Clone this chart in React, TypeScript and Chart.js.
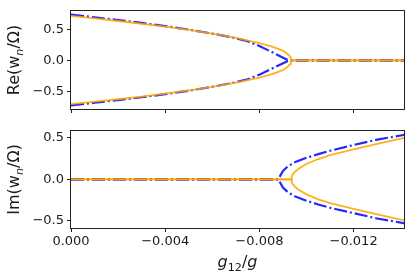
import React, { useEffect, useRef } from 'react';
import { Chart, registerables } from 'chart.js';
Chart.register(...registerables);

const FONT = '"DejaVu Sans", sans-serif';
const TEXT = '#1a1a1a';

// x axis (g12/g), reversed: 0 on the left
const X_MIN = -0.01414;
const X_MAX = 0;
const xTicks = [0, -0.004, -0.008, -0.012];
const yTicks = [-0.5, 0, 0.5];

// ---- Re(w_n/Ω) ----
const reOrangeX = [0, -0.001, -0.002, -0.003, -0.004, -0.005, -0.006, -0.007, -0.008, -0.0085, -0.0088, -0.009, -0.0091, -0.0092, -0.0093, -0.00933, -0.00935, -0.01414];
const reOrangeUp = [0.72, 0.68, 0.638, 0.594, 0.546, 0.493, 0.434, 0.366, 0.282, 0.229, 0.188, 0.155, 0.133, 0.104, 0.062, 0.04, 0, 0];
const reOrangeLo = [-0.705, -0.667, -0.627, -0.584, -0.537, -0.485, -0.427, -0.36, -0.278, -0.226, -0.186, -0.153, -0.131, -0.102, -0.061, -0.039, 0, 0];

const reBlueX = [0, -0.001, -0.002, -0.003, -0.004, -0.005, -0.006, -0.007, -0.0075, -0.008, -0.00925, -0.01414];
const reBlueUp = [0.74, 0.698, 0.654, 0.607, 0.556, 0.499, 0.435, 0.36, 0.31, 0.235, 0, 0];
const reBlueLo = [-0.725, -0.684, -0.641, -0.595, -0.545, -0.489, -0.426, -0.353, -0.304, -0.23, 0, 0];

// ---- Im(w_n/Ω) ----
const imOrangeX = [0, -0.00935, -0.00937, -0.0094, -0.0095, -0.0097, -0.01, -0.0105, -0.011, -0.012, -0.013, -0.014, -0.01414];
const imOrangeUp = [0, 0, 0.032, 0.051, 0.089, 0.135, 0.185, 0.245, 0.292, 0.362, 0.43, 0.492, 0.5];
const imOrangeLo = [0, 0, -0.032, -0.051, -0.088, -0.134, -0.183, -0.243, -0.29, -0.358, -0.426, -0.488, -0.496];

const imBlueX = [0, -0.0088, -0.0089, -0.009, -0.0092, -0.0095, -0.01, -0.0105, -0.011, -0.012, -0.013, -0.014, -0.01414];
const imBlueUp = [0, 0, 0.05, 0.1, 0.155, 0.205, 0.26, 0.305, 0.345, 0.415, 0.48, 0.53, 0.537];
const imBlueLo = [0, 0, -0.05, -0.1, -0.155, -0.205, -0.26, -0.305, -0.345, -0.41, -0.475, -0.525, -0.53];

const ORANGE = 'rgba(255,165,0,0.88)';
const BLUE = 'rgba(0,0,255,0.85)';

type Run = { t: string; it?: boolean; sub?: boolean };

function pts(xs: number[], ys: number[]) {
  return xs.map((x, i) => ({ x, y: ys[i] }));
}

function fmt(v: number, d: number) {
  return (v < 0 ? '\u2212' : '') + Math.abs(v).toFixed(d);
}

function drawRuns(ctx: CanvasRenderingContext2D, runs: Run[], cx: number, cy: number, size: number, rotate: boolean) {
  ctx.save();
  ctx.translate(cx, cy);
  if (rotate) ctx.rotate(-Math.PI / 2);
  const fontOf = (r: Run) => `${r.it ? 'italic ' : ''}${r.sub ? size * 0.7 : size}px ${FONT}`;
  let w = 0;
  for (const r of runs) {
    ctx.font = fontOf(r);
    w += ctx.measureText(r.t).width;
  }
  let x = -w / 2;
  ctx.textAlign = 'left';
  ctx.textBaseline = 'alphabetic';
  ctx.fillStyle = TEXT;
  for (const r of runs) {
    ctx.font = fontOf(r);
    ctx.fillText(r.t, x, r.sub ? size * 0.22 : 0);
    x += ctx.measureText(r.t).width;
  }
  ctx.restore();
}

function makePlugin(yRuns: Run[], xRuns: Run[] | null) {
  return {
    id: 'frameLabels',
    afterDraw(chart: any) {
      const { ctx, chartArea } = chart;
      const { left, right, top, bottom } = chartArea;
      ctx.save();
      ctx.strokeStyle = '#222';
      ctx.lineWidth = 1;
      ctx.strokeRect(Math.round(left) - 0.5, Math.round(top) - 0.5, Math.round(right - left) + 1, Math.round(bottom - top) + 1);
      ctx.restore();
      drawRuns(ctx, yRuns, 19, (top + bottom) / 2, 16, true);
      if (xRuns) drawRuns(ctx, xRuns, (left + right) / 2, bottom + 39, 16, false);
    },
  };
}

function lineDs(data: { x: number; y: number }[], color: string, dashed: boolean) {
  return {
    data,
    borderColor: color,
    borderWidth: dashed ? 2.2 : 1.8,
    borderDash: dashed ? [13, 3, 2, 3] : [],
    borderCapStyle: 'butt',
    pointRadius: 0,
    fill: false,
    tension: 0,
    order: dashed ? 1 : 0,
  };
}

function makeConfig(datasets: any[], yMin: number, yMax: number, xHeight: number, padTop: number, showXLabels: boolean, plugin: any): any {
  const grid = { drawOnChartArea: false, drawTicks: true, tickLength: 4, tickColor: '#222', tickWidth: 1 };
  return {
    type: 'line',
    data: { datasets },
    options: {
      animation: false,
      responsive: false,
      maintainAspectRatio: false,
      layout: { padding: { top: padTop, right: 11, left: 0, bottom: 0 } },
      plugins: { legend: { display: false }, tooltip: { enabled: false } },
      elements: { point: { radius: 0 } },
      scales: {
        x: {
          type: 'linear',
          min: X_MIN,
          max: X_MAX,
          reverse: true,
          afterBuildTicks: (s: any) => { s.ticks = xTicks.map((v) => ({ value: v })); },
          afterFit: (s: any) => { s.height = xHeight; },
          grid,
          border: { display: false },
          ticks: {
            autoSkip: false,
            maxRotation: 0,
            padding: 2,
            color: TEXT,
            font: { family: FONT, size: 13 },
            callback: (v: number) => (showXLabels ? fmt(v, 3) : ''),
          },
        },
        y: {
          type: 'linear',
          min: yMin,
          max: yMax,
          afterBuildTicks: (s: any) => { s.ticks = yTicks.map((v) => ({ value: v })); },
          afterFit: (s: any) => { s.width = 71; },
          grid,
          border: { display: false },
          ticks: {
            padding: 3,
            color: TEXT,
            font: { family: FONT, size: 13 },
            callback: (v: number) => fmt(v, 1),
          },
        },
      },
    },
    plugins: [plugin],
  };
}

export default function App() {
  const topRef = useRef<HTMLCanvasElement>(null);
  const botRef = useRef<HTMLCanvasElement>(null);

  useEffect(() => {
    document.body.style.margin = '0';
    const topDs = [
      lineDs(pts(reOrangeX, reOrangeUp), ORANGE, false),
      lineDs(pts(reOrangeX, reOrangeLo), ORANGE, false),
      lineDs(pts(reBlueX, reBlueUp), BLUE, true),
      lineDs(pts(reBlueX, reBlueLo), BLUE, true),
    ];
    const botDs = [
      lineDs(pts(imOrangeX, imOrangeUp), ORANGE, false),
      lineDs(pts(imOrangeX, imOrangeLo), ORANGE, false),
      lineDs(pts(imBlueX, imBlueUp), BLUE, true),
      lineDs(pts(imBlueX, imBlueLo), BLUE, true),
    ];
    const reLabel: Run[] = [{ t: 'Re(w' }, { t: 'n', it: true, sub: true }, { t: '/\u03A9)' }];
    const imLabel: Run[] = [{ t: 'Im(w' }, { t: 'n', it: true, sub: true }, { t: '/\u03A9)' }];
    const xLabel: Run[] = [{ t: 'g', it: true }, { t: '12', sub: true }, { t: '/' }, { t: 'g', it: true }];

    const c1 = new Chart(topRef.current!, makeConfig(topDs, -0.785, 0.8, 11, 11, false, makePlugin(reLabel, null)));
    const c2 = new Chart(botRef.current!, makeConfig(botDs, -0.59, 0.587, 51, 9, true, makePlugin(imLabel, xLabel)));
    return () => {
      c1.destroy();
      c2.destroy();
    };
  }, []);

  return (
    <div style={{ position: 'relative', width: 415, height: 279, background: '#fff' }}>
      <canvas ref={topRef} width={415} height={120} style={{ position: 'absolute', left: 0, top: 0 }} />
      <canvas ref={botRef} width={415} height={159} style={{ position: 'absolute', left: 0, top: 120 }} />
    </div>
  );
}
